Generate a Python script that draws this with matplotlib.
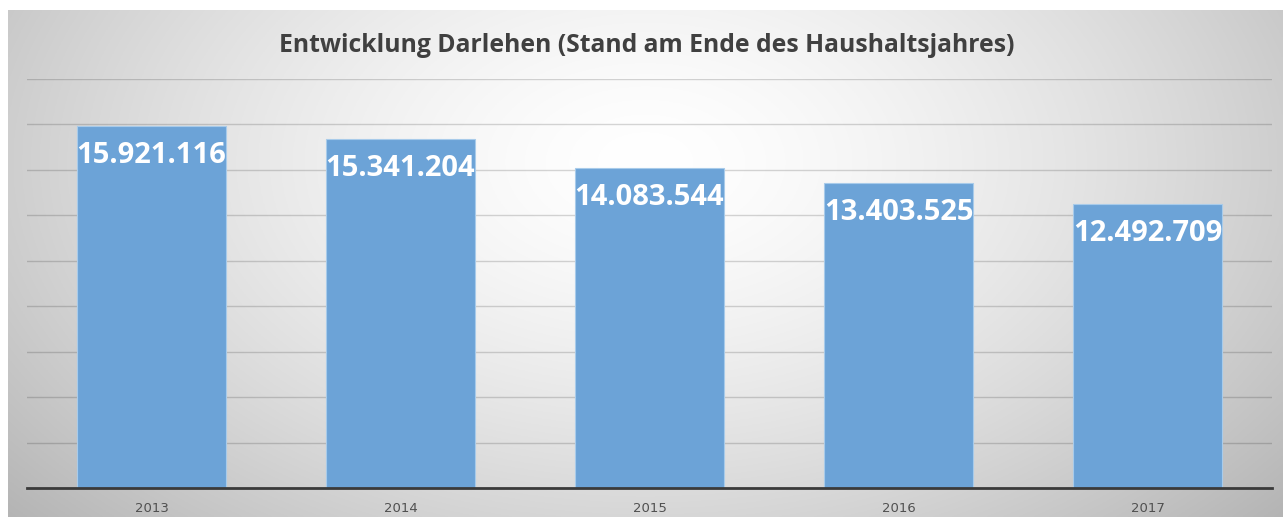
import numpy as np
import matplotlib
matplotlib.use("Agg")
import matplotlib.pyplot as plt

# data
years = ["2013", "2014", "2015", "2016", "2017"]
loans = [15921116, 15341204, 14083544, 13403525, 12492709]
labels = ["15.921.116", "15.341.204", "14.083.544", "13.403.525", "12.492.709"]

title = "Entwicklung Darlehen (Stand am Ende des Haushaltsjahres)"

W, H = 1283, 517
fig = plt.figure(figsize=(W / 100, H / 100), dpi=100)
fig.patch.set_facecolor("white")

# chart area background with radial gradient (Excel style)
bg = fig.add_axes([8 / W, 0, 1 - 8 / W, 1 - 10 / H])
yy, xx = np.mgrid[0:1:300j, 0:1:600j]
r = np.sqrt(((xx - 0.5) / 0.6) ** 2 + ((yy - 0.3) / 0.95) ** 2)
shade = 1.0 - 0.25 * np.clip(r, 0, 1.2) ** 1.5
img = np.dstack([shade, shade, shade])
bg.imshow(img, extent=[0, 1, 0, 1], origin="upper", aspect="auto")
bg.set_axis_off()

# plot area
ax = fig.add_axes([27 / W, (H - 488) / H, 1245 / W, (488 - 79) / H])
ax.patch.set_alpha(0)
x = np.arange(len(years))
bars = ax.bar(x, loans, width=0.6, color="#6ca3d7", edgecolor="#a8cbea",
              linewidth=0.8, zorder=3)
ax.set_xlim(-0.5, len(years) - 0.5)
ax.set_ylim(0, 18000000)
ax.set_yticks(np.arange(0, 18000001, 2000000))
ax.yaxis.grid(True, color="black", alpha=0.16, linewidth=1.0, zorder=0)
ax.tick_params(axis="y", left=False, labelleft=False)
ax.tick_params(axis="x", length=0, pad=10, labelsize=9.5, colors="#505050")
ax.set_xticks(x)
ax.set_xticklabels(years)
for s in ["top", "right", "left"]:
    ax.spines[s].set_visible(False)
ax.spines["bottom"].set_color("#3a3a3a")
ax.spines["bottom"].set_linewidth(2)
ax.spines["bottom"].set_zorder(4)

# value labels inside the bar tops
for xi, v, lab in zip(x, loans, labels):
    ax.annotate(lab, (xi, v), xytext=(0, -21), textcoords="offset points",
                ha="center", va="center", color="white", fontsize=21,
                fontweight="bold", family=["Open Sans", "DejaVu Sans"], zorder=5)

fig.text(647 / W, 1 - 45 / H, title, ha="center", va="center",
         fontsize=17.8, fontweight="bold", color="#404040",
         family=["Open Sans", "DejaVu Sans"])

fig.savefig("out.png", dpi=100)
